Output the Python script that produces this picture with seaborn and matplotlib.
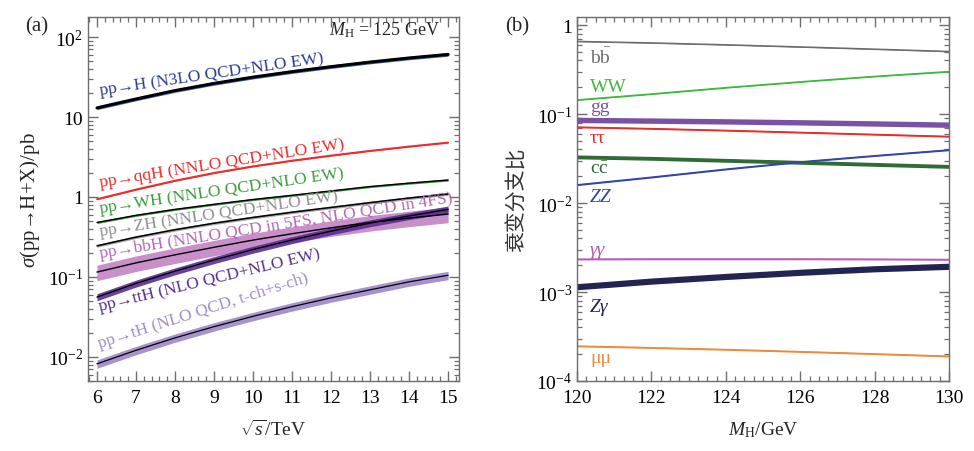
import numpy as np
import pandas as pd
import matplotlib
matplotlib.use("Agg")
import matplotlib.pyplot as plt
from matplotlib.ticker import MultipleLocator, LogLocator, NullFormatter, FuncFormatter
import seaborn as sns

# ---- panel (a): production cross sections (pb) vs sqrt(s) ----
energy = [6, 7, 8, 9, 10, 11, 12, 13, 14, 15]
xs_ggH = [13.0, 16.8, 21.4, 26.3, 31.5, 36.9, 42.6, 48.6, 54.7, 60.6]
xs_qqH = [0.94, 1.24, 1.60, 2.00, 2.42, 2.85, 3.30, 3.78, 4.28, 4.80]
xs_WH = [0.48, 0.59, 0.70, 0.81, 0.93, 1.05, 1.19, 1.35, 1.49, 1.63]
xs_ZH = [0.245, 0.315, 0.39, 0.47, 0.555, 0.645, 0.74, 0.85, 0.97, 1.09]
xs_bbH = [0.115, 0.150, 0.189, 0.235, 0.289, 0.347, 0.412, 0.480, 0.545, 0.611]
xs_ttH = [0.056, 0.083, 0.118, 0.163, 0.220, 0.290, 0.374, 0.471, 0.579, 0.700]
xs_tH = [0.0082, 0.0121, 0.0173, 0.0239, 0.0322, 0.0425, 0.0548, 0.069, 0.0869, 0.105]
# relative uncertainty bands
unc_prod = {"ggH": 0.05, "qqH": 0.02, "WH": 0.03, "ZH": 0.04,
            "bbH": 0.22, "ttH": 0.10, "tH": 0.12}

# ---- panel (b): branching ratios vs M_H ----
mass = [120, 122, 124, 126, 128, 130]
br_bb = [0.655, 0.630, 0.600, 0.568, 0.536, 0.505]
br_WW = [0.144, 0.168, 0.198, 0.230, 0.265, 0.300]
br_gg = [0.086, 0.0845, 0.0828, 0.0808, 0.0785, 0.0760]
br_tautau = [0.0713, 0.0686, 0.0655, 0.0622, 0.0590, 0.0560]
br_cc = [0.0330, 0.0318, 0.0302, 0.0287, 0.0272, 0.0258]
br_ZZ = [0.0160, 0.0195, 0.0240, 0.0290, 0.0340, 0.0395]
br_gamgam = [0.00234, 0.00235, 0.00235, 0.00235, 0.00234, 0.00232]
br_Zgam = [0.00115, 0.00133, 0.00150, 0.00167, 0.00183, 0.00195]
br_mumu = [0.000247, 0.000237, 0.000226, 0.000214, 0.000202, 0.000190]
unc_br = {"bb": 0.012, "WW": 0.015, "gg": 0.07, "tautau": 0.02, "cc": 0.05,
          "ZZ": 0.02, "gamgam": 0.02, "Zgam": 0.08, "mumu": 0.02}

sns.set_theme(style="ticks")
plt.rcParams["font.family"] = ["Liberation Serif", "DejaVu Serif"]
plt.rcParams["mathtext.fontset"] = "custom"
plt.rcParams["mathtext.rm"] = "Liberation Serif"
plt.rcParams["mathtext.it"] = "Liberation Serif:italic"
plt.rcParams["mathtext.bf"] = "Liberation Serif:bold"
plt.rcParams["axes.edgecolor"] = "#6e6e6e"
plt.rcParams["axes.linewidth"] = 1.0
plt.rcParams["xtick.color"] = "#6e6e6e"
plt.rcParams["ytick.color"] = "#6e6e6e"
plt.rcParams["xtick.labelcolor"] = "black"
plt.rcParams["ytick.labelcolor"] = "black"

fig = plt.figure(figsize=(9.74, 4.52), dpi=100)
axA = fig.add_axes([88 / 974, 1 - 382 / 452, 371 / 974, 364 / 452])
axB = fig.add_axes([577 / 974, 1 - 382 / 452, 372 / 974, 364 / 452])


def pow_fmt(v, pos):
    e = int(round(np.log10(v)))
    if e == 0:
        return "1"
    if e == 1:
        return "10"
    return r"$10^{%d}$" % e


def style_axis(ax):
    ax.set_yscale("log")
    ax.tick_params(which="both", direction="in", top=True, right=True, labelsize=14)
    ax.tick_params(axis="x", which="both", pad=6)
    ax.tick_params(which="major", length=7, width=1.0)
    ax.tick_params(which="minor", length=3.5, width=0.9)
    ax.yaxis.set_major_locator(LogLocator(base=10, numticks=10))
    ax.yaxis.set_minor_locator(LogLocator(base=10, subs=np.arange(2, 10), numticks=20))
    ax.yaxis.set_minor_formatter(NullFormatter())
    ax.yaxis.set_major_formatter(FuncFormatter(pow_fmt))


# --- panel (a) ---
df_a = pd.DataFrame({"E": energy, "ggH": xs_ggH, "qqH": xs_qqH, "WH": xs_WH, "ZH": xs_ZH,
                     "bbH": xs_bbH, "ttH": xs_ttH, "tH": xs_tH})
prod_style = {
    "ggH": ("#2f4fb0", "black", 2.2),
    "qqH": ("#ee2a2a", "#ee2a2a", 1.3),
    "WH": ("#2e7d32", "black", 1.0),
    "ZH": ("#9a9a9a", "black", 1.1),
    "bbH": ("#c07cc0", "black", 1.0),
    "ttH": ("#5a2d91", "black", 1.0),
    "tH": ("#9f86c9", "black", 0.9),
}
for key in ["bbH", "ttH", "tH", "ZH", "WH", "qqH", "ggH"]:
    band_c, line_c, lw = prod_style[key]
    u = unc_prod[key]
    axA.fill_between(df_a["E"], df_a[key] * (1 - u), df_a[key] * (1 + u),
                     color=band_c, lw=0, alpha=0.9 if key != "bbH" else 0.85)
    sns.lineplot(data=df_a, x="E", y=key, ax=axA, color=line_c, lw=lw, legend=False)

style_axis(axA)
axA.set_xlim(5.77, 15.28)
axA.set_ylim(0.005, 178)
axA.xaxis.set_major_locator(MultipleLocator(1))
axA.xaxis.set_minor_locator(MultipleLocator(0.2))
axA.set_xlabel(r"$\sqrt{s}$/TeV", fontsize=14, labelpad=9)
axA.set_ylabel(r"$\sigma$(pp→H+X)/pb", fontsize=15, labelpad=4)

prod_labels = [
    ("pp→H (N3LO QCD+NLO EW)", 19.4, 8.3, "#2b3990"),
    ("pp→qqH (NNLO QCD+NLO EW)", 1.37, 9.0, "#ee2a2a"),
    ("pp→WH (NNLO QCD+NLO EW)", 0.65, 8.3, "#3a9a3a"),
    ("pp→ZH (NNLO QCD+NLO EW)", 0.33, 8.5, "#8f8f8f"),
    ("pp→bbH (NNLO QCD in 5FS, NLO QCD in 4FS)", 0.176, 9.0, "#b366b3"),
    ("pp→ttH (NLO QCD+NLO EW)", 0.038, 13.6, "#5a2d91"),
    ("pp→tH (NLO QCD, t-ch+s-ch)", 0.0132, 17.6, "#a08cc8"),
]
for txt, yv, rot, col in prod_labels:
    axA.text(6.08, yv, txt, rotation=rot, rotation_mode="anchor", ha="left",
             va="baseline", color=col, fontsize=12.5)
axA.text(0.949, 0.953, r"$M_\mathrm{H}$ = 125 GeV", transform=axA.transAxes,
         ha="right", va="baseline", fontsize=13)

# --- panel (b) ---
df_b = pd.DataFrame({"M": mass, "bb": br_bb, "WW": br_WW, "gg": br_gg, "tautau": br_tautau,
                     "cc": br_cc, "ZZ": br_ZZ, "gamgam": br_gamgam, "Zgam": br_Zgam,
                     "mumu": br_mumu})
br_colors = {"bb": "#6b6b6b", "WW": "#3db83d", "gg": "#7b52a3", "tautau": "#ec2b2b",
             "cc": "#2f6b35", "ZZ": "#3346a8", "gamgam": "#b35bb8", "Zgam": "#242452",
             "mumu": "#f08a3a"}
for key, col in br_colors.items():
    u = unc_br[key]
    axB.fill_between(df_b["M"], df_b[key] * (1 - u), df_b[key] * (1 + u), color=col, lw=0)
    sns.lineplot(data=df_b, x="M", y=key, ax=axB, color=col, lw=1.0, legend=False)

style_axis(axB)
axB.set_xlim(120, 130)
axB.set_ylim(1e-4, 1.23)
axB.xaxis.set_major_locator(MultipleLocator(2))
axB.xaxis.set_minor_locator(MultipleLocator(0.25))
axB.set_xlabel(r"$M_\mathrm{H}$/GeV", fontsize=14, labelpad=9)
axB.set_ylabel("衰变分支比", fontsize=15, family=["Noto Sans CJK SC", "DejaVu Sans"],
               color="#333333", labelpad=6)

br_labels = [
    (r"$\mathrm{b\bar{b}}$", 0.44, "#6b6b6b", "normal"),
    ("WW", 0.205, "#3db83d", "normal"),
    ("gg", 0.122, "#7b52a3", "normal"),
    ("ττ", 0.055, "#ec2b2b", "normal"),
    (r"$\mathrm{c\bar{c}}$", 0.0245, "#2f6b35", "normal"),
    ("ZZ", 0.0117, "#3346a8", "italic"),
    ("γγ", 0.0030, "#b35bb8", "italic"),
    ("Zγ", 0.00068, "#242452", "italic"),
    ("μμ", 0.000186, "#f08a3a", "normal"),
]
for txt, yv, col, st in br_labels:
    axB.text(120.35, yv, txt, ha="left", va="center", color=col, fontsize=14, style=st)

fig.text(25 / 974, 1 - 27 / 452, "(a)", fontsize=15, va="center", ha="left")
fig.text(505 / 974, 1 - 27 / 452, "(b)", fontsize=15, va="center", ha="left")

fig.savefig("out.png", dpi=100)
